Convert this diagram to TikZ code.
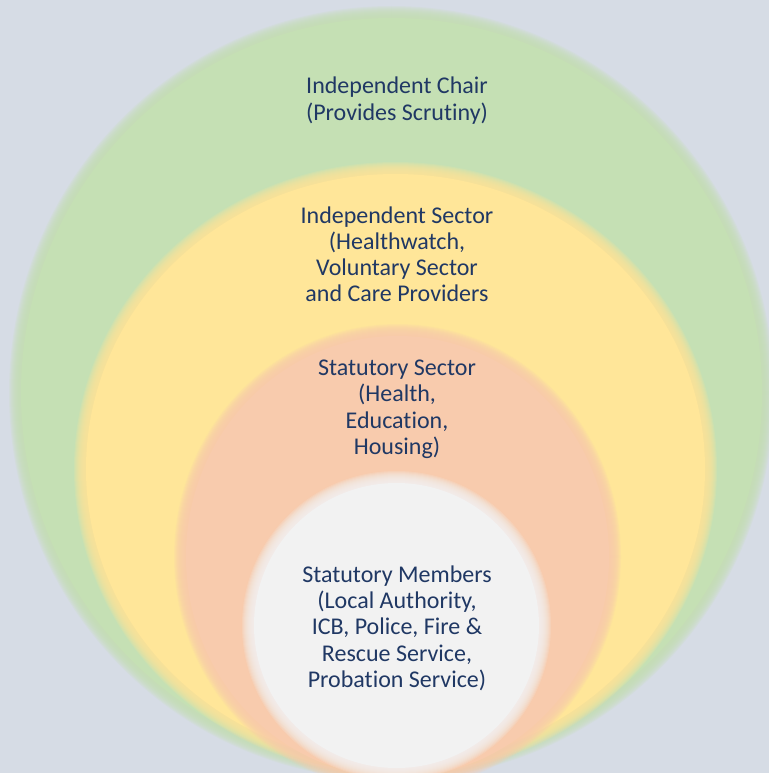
\documentclass[tikz,border=0pt]{standalone}
\usepackage{fontspec}
\setmainfont{Carlito}[Ligatures={NoCommon}]
\definecolor{bgc}{HTML}{D6DCE5}
\definecolor{ringgreen}{HTML}{C5E0B4}
\definecolor{ringyellow}{HTML}{FFE699}
\definecolor{ringorange}{HTML}{F8CBAD}
\definecolor{ringwhite}{HTML}{F2F2F2}
\definecolor{txt}{HTML}{203864}
\newcommand{\softellipse}[5]{%
  \foreach \dd in {6,5,...,-5}{%
    \fill[#1, opacity=0.17] (#2,#3) ellipse [x radius={(#4+\dd)*1bp}, y radius={(#5+\dd)*1bp}];
  }%
  \fill[#1] (#2,#3) ellipse [x radius={(#4-6)*1bp}, y radius={(#5-6)*1bp}];
}
\tikzset{lbl/.style={font=\fontsize{24bp}{26.2bp}\selectfont, text=txt, align=center, inner sep=0pt, anchor=base}}
\begin{document}
\begin{tikzpicture}[x=1bp,y=-1bp]
\useasboundingbox (0,0) rectangle (769,773);
\fill[bgc] (0,0) rectangle (769,773);
\clip (0,0) rectangle (769,773);
\softellipse{ringgreen}{391.5}{393}{376.5}{381}
\softellipse{ringyellow}{395.5}{469}{315.5}{301}
\softellipse{ringorange}{397.5}{556.6}{217.5}{226.6}
\softellipse{ringwhite}{396.5}{625.5}{148.5}{148.5}
\node[lbl] (tchair) at (397,120) {Independent Chair\\(Provides Scrutiny)};
\node[lbl] (tindep) at (397,301.7) {Independent Sector\\(Healthwatch,\\Voluntary Sector\\and Care Providers};
\node[lbl] (tstat) at (397,454.3) {Statutory Sector\\(Health,\\Education,\\Housing)};
\node[lbl] (tmem) at (397,687.3) {Statutory Members\\(Local Authority,\\ICB, Police, Fire \&\\Rescue Service,\\Probation Service)};
\end{tikzpicture}
\end{document}
